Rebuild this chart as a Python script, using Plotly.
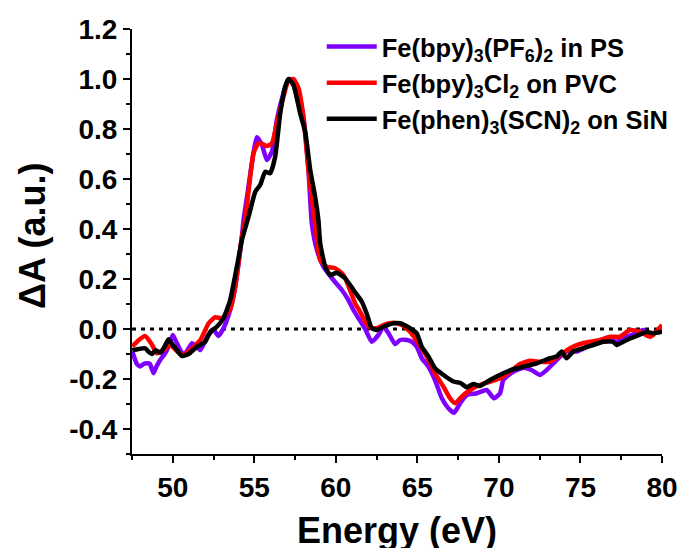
import plotly.graph_objects as go

# ---------------- data ----------------
energy_ps = [47.52, 47.8, 48.0, 48.2, 48.42, 48.6, 48.82, 49.0, 49.23, 49.5, 49.74, 50.0, 50.2, 50.36,
             50.66, 50.9, 51.18, 51.45, 51.69, 51.9, 52.1, 52.5, 52.8, 53.11, 53.52, 53.83, 54.05,
             54.24, 54.34, 54.6, 54.85, 55.16, 55.47, 55.77, 56.08, 56.38, 56.79, 57.1, 57.4, 57.71,
             58.01, 58.32, 58.53, 58.84, 59.24, 59.85, 60.37, 60.77, 61.08, 61.39, 61.8, 62.2, 62.61,
             62.92, 63.23, 63.63, 63.94, 64.35, 64.66, 64.96, 65.27, 65.68, 66.08, 66.5, 66.9, 67.25,
             67.62, 68.03, 68.64, 69.25, 69.7, 70.07, 70.27, 70.88, 71.5, 72.0, 72.52, 72.93, 73.54,
             74.15, 74.77, 75.38, 75.99, 76.61, 77.22, 77.83, 78.44, 78.85, 79.26, 79.6, 80.0]
dA_ps = [-0.09, -0.14, -0.15, -0.14, -0.137, -0.14, -0.177, -0.15, -0.124, -0.10, -0.071, -0.024,
         -0.05, -0.071, -0.104, -0.085, -0.057, -0.07, -0.084, -0.06, -0.031, -0.004, -0.028, 0.003,
         0.076, 0.169, 0.27, 0.369, 0.436, 0.55, 0.663, 0.767, 0.736, 0.676, 0.709, 0.836, 0.943,
         1.0, 0.996, 0.943, 0.849, 0.636, 0.42, 0.316, 0.249, 0.196, 0.156, 0.116, 0.076, 0.043,
         0.0, -0.051, -0.024, 0.009, -0.017, -0.06, -0.044, -0.044, -0.051, -0.071, -0.117, -0.151,
         -0.204, -0.277, -0.317, -0.335, -0.297, -0.264, -0.257, -0.244, -0.277, -0.257, -0.204,
         -0.171, -0.155, -0.164, -0.184, -0.164, -0.124, -0.09, -0.09, -0.071, -0.051, -0.037,
         -0.051, -0.031, -0.017, -0.004, -0.024, -0.012, -0.004]

energy_pvc = [47.52, 47.9, 48.3, 48.7, 49.03, 49.44, 49.85, 50.2, 50.56, 51.07, 51.69, 52.2, 52.6,
              53.0, 53.5, 53.83, 54.24, 54.44, 54.7, 54.95, 55.26, 55.5, 55.77, 56.08, 56.38, 56.79,
              57.1, 57.4, 57.71, 58.01, 58.32, 58.63, 58.84, 59.04, 59.45, 59.96, 60.47, 60.88, 61.18,
              61.49, 61.8, 62.1, 62.51, 62.92, 63.53, 64.04, 64.55, 65.06, 65.57, 66.08, 66.6, 67.0,
              67.31, 67.72, 68.23, 68.84, 69.45, 70.07, 70.68, 71.29, 71.9, 72.52, 73.13, 73.74,
              74.36, 74.97, 75.58, 76.2, 76.81, 77.42, 78.03, 78.64, 79.26, 79.6, 80.0]
dA_pvc = [-0.07, -0.045, -0.028, -0.06, -0.097, -0.084, -0.064, -0.085, -0.104, -0.084, -0.044,
          0.023, 0.047, 0.043, 0.076, 0.169, 0.369, 0.436, 0.58, 0.703, 0.743, 0.74, 0.732, 0.743,
          0.823, 0.929, 0.995, 1.0, 0.963, 0.849, 0.636, 0.47, 0.36, 0.276, 0.249, 0.243, 0.216,
          0.153, 0.103, 0.069, 0.03, 0.006, 0.003, 0.016, 0.025, 0.016, -0.011, -0.057, -0.11,
          -0.177, -0.231, -0.277, -0.297, -0.271, -0.244, -0.224, -0.211, -0.197, -0.171, -0.14,
          -0.127, -0.131, -0.131, -0.104, -0.077, -0.06, -0.051, -0.044, -0.031, -0.031, -0.004,
          -0.011, -0.031, -0.015, 0.016]

energy_sin = [47.52, 47.9, 48.3, 48.5, 48.73, 48.95, 49.23, 49.5, 49.74, 49.95, 50.15, 50.56, 50.97,
              51.48, 51.99, 52.3, 52.7, 53.11, 53.52, 53.93, 54.24, 54.65, 55.06, 55.36, 55.67,
              55.97, 56.28, 56.59, 56.89, 57.1, 57.4, 57.81, 58.12, 58.43, 58.73, 58.93, 59.04,
              59.35, 59.65, 60.06, 60.57, 61.08, 61.59, 61.9, 62.2, 62.5, 62.92, 63.53, 63.94, 64.55,
              64.96, 65.27, 65.68, 66.08, 66.6, 67.2, 67.62, 68.03, 68.43, 68.84, 69.45, 70.27,
              70.88, 71.5, 72.32, 73.13, 73.54, 73.85, 74.15, 74.56, 75.17, 75.78, 76.4, 77.0, 77.22,
              77.83, 78.44, 79.06, 79.46, 80.0]
dA_sin = [-0.085, -0.08, -0.077, -0.09, -0.1, -0.085, -0.095, -0.07, -0.041, -0.06, -0.075, -0.108,
          -0.1, -0.071, -0.051, -0.011, 0.009, 0.043, 0.116, 0.249, 0.356, 0.45, 0.549, 0.576,
          0.629, 0.623, 0.689, 0.863, 0.969, 1.0, 0.976, 0.863, 0.789, 0.636, 0.529, 0.436, 0.343,
          0.249, 0.216, 0.225, 0.203, 0.156, 0.11, 0.06, 0.003, -0.004, 0.009, 0.023, 0.023, 0.003,
          -0.017, -0.071, -0.11, -0.157, -0.184, -0.21, -0.215, -0.233, -0.22, -0.228, -0.204,
          -0.177, -0.161, -0.151, -0.137, -0.117, -0.11, -0.09, -0.117, -0.09, -0.077, -0.064,
          -0.051, -0.051, -0.064, -0.044, -0.028, -0.011, -0.017, -0.011]

series_names = ["Fe(bpy)<sub>3</sub>(PF<sub>6</sub>)<sub>2</sub> in PS",
                "Fe(bpy)<sub>3</sub>Cl<sub>2</sub> on PVC",
                "Fe(phen)<sub>3</sub>(SCN)<sub>2</sub> on SiN"]
x_title = "Energy (eV)"
y_title = "ΔA (a.u.)"
x_range = [47.5, 80]
y_range = [-0.5, 1.2]
x_ticks = [50, 55, 60, 65, 70, 75, 80]
y_ticks = [-0.4, -0.2, 0.0, 0.2, 0.4, 0.6, 0.8, 1.0, 1.2]
y_tick_labels = ["-0.4", "-0.2", "0.0", "0.2", "0.4", "0.6", "0.8", "1.0", "1.2"]

# ---------------- figure ----------------
FONT = "Liberation Sans, Arial, sans-serif"
colors = ["#7F00FF", "#FF0000", "#000000"]

fig = go.Figure()
# zero reference line
fig.add_trace(go.Scatter(x=x_range, y=[0, 0], mode="lines", showlegend=False,
                         line=dict(color="black", width=3, dash="4px,5px"), hoverinfo="skip"))
for xs, ys, name, c in zip([energy_ps, energy_pvc, energy_sin], [dA_ps, dA_pvc, dA_sin],
                           series_names, colors):
    fig.add_trace(go.Scatter(x=xs, y=ys, mode="lines", name=name,
                             line=dict(color=c, width=4.5, shape="spline", smoothing=0.5)))

axis_common = dict(showline=True, linecolor="black", linewidth=2, mirror=False,
                   ticks="outside", ticklen=7, tickwidth=2, tickcolor="black",
                   showgrid=False, zeroline=False,
                   tickfont=dict(family=FONT, size=28, color="black", weight="bold"))

title_font = dict(family=FONT, size=36, color="black", weight="bold")

fig.update_layout(
    width=681, height=548,
    margin=dict(l=132, r=19, t=29, b=94, autoexpand=False),
    plot_bgcolor="white", paper_bgcolor="white",
    xaxis=dict(range=x_range, tickvals=x_ticks,
               minor=dict(dtick=2.5, tick0=47.5, ticks="outside", ticklen=4, tickwidth=2,
                          tickcolor="black"),
               **axis_common),
    yaxis=dict(range=y_range, tickvals=y_ticks, ticktext=y_tick_labels,
               minor=dict(dtick=0.1, tick0=0, ticks="outside", ticklen=4, tickwidth=2,
                          tickcolor="black"),
               **axis_common),
    legend=dict(x=0.358, y=1.013, xanchor="left", yanchor="top", bgcolor="rgba(0,0,0,0)",
                font=dict(family=FONT, size=25.5, color="black", weight="bold"),
                itemwidth=50),
    showlegend=True,
    annotations=[
        dict(text=x_title, xref="paper", yref="paper", x=0.5, y=-0.126,
             xanchor="center", yanchor="top", showarrow=False, font=title_font),
        dict(text=y_title, xref="paper", yref="paper", x=-0.189, y=0.515,
             xanchor="center", yanchor="middle", textangle=-90, showarrow=False,
             font=title_font),
    ],
)

# remove the default 8px page margin so the figure fills the window exactly
fig.write_html("out.html", config={"displayModeBar": False},
               post_script="document.body.style.margin='0';document.body.style.overflow='hidden';")
